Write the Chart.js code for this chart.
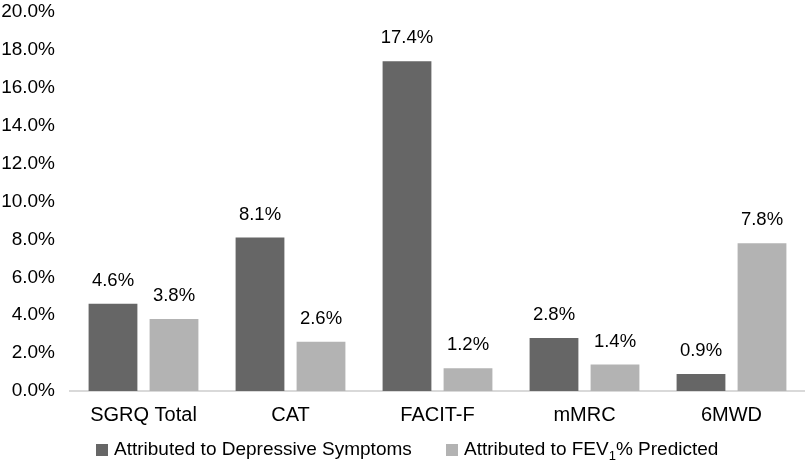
<!DOCTYPE html>
<html>
<head>
<meta charset="utf-8">
<script src="https://cdn.jsdelivr.net/npm/chart.js@4"></script>
<style>
  html, body { margin: 0; padding: 0; background: #fff; }
  #wrap { width: 805px; height: 467px; position: relative; }
</style>
</head>
<body>
<div id="wrap"><canvas id="bar-chart"></canvas></div>
<script>
// values (percent)
const categories = ["SGRQ Total", "CAT", "FACIT-F", "mMRC", "6MWD"];
const depressive = [4.6, 8.1, 17.4, 2.8, 0.9];
const fev1 = [3.8, 2.6, 1.2, 1.4, 7.8];
const yTicks = [0, 2, 4, 6, 8, 10, 12, 14, 16, 18, 20];

const FONT = "'Liberation Sans', Arial, Helvetica, sans-serif";
const DARK = "#666666", LIGHT = "#b3b3b3";

/* draws the % value above every bar */
const valueLabels = {
  id: 'valueLabels',
  afterDatasetsDraw(chart) {
    const ctx = chart.ctx;
    ctx.save();
    ctx.font = "18.5px " + FONT;
    ctx.fillStyle = "#000";
    ctx.textAlign = "center";
    ctx.textBaseline = "middle";
    chart.data.datasets.forEach((ds, i) => {
      chart.getDatasetMeta(i).data.forEach((bar, j) => {
        ctx.fillText(ds.data[j].toFixed(1) + "%", bar.x, bar.y - 23);
      });
    });
    ctx.restore();
  }
};

/* legend at the bottom, with FEV1 subscript */
const bottomLegend = {
  id: 'bottomLegend',
  afterDraw(chart) {
    const ctx = chart.ctx;
    const y = 450;
    ctx.save();
    ctx.textBaseline = "middle";
    ctx.textAlign = "left";
    ctx.font = "19px " + FONT;
    ctx.fillStyle = DARK;
    ctx.fillRect(96, y - 6, 12, 12);
    ctx.fillStyle = "#000";
    ctx.fillText("Attributed to Depressive Symptoms", 114, y);

    ctx.fillStyle = LIGHT;
    ctx.fillRect(446, y - 6, 12, 12);
    ctx.fillStyle = "#000";
    let x = 464;
    ctx.fillText("Attributed to FEV", x, y);
    x += ctx.measureText("Attributed to FEV").width;
    ctx.font = "13px " + FONT;
    ctx.fillText("1", x, y + 6);
    x += ctx.measureText("1").width;
    ctx.font = "19px " + FONT;
    ctx.fillText("% Predicted", x, y);
    ctx.restore();
  }
};

new Chart(document.getElementById("bar-chart"), {
  type: 'bar',
  data: {
    labels: categories,
    datasets: [
      {
        label: "Attributed to Depressive Symptoms",
        backgroundColor: DARK,
        data: depressive,
        categoryPercentage: 0.83,
        barPercentage: 0.8
      },
      {
        label: "Attributed to FEV1% Predicted",
        backgroundColor: LIGHT,
        data: fev1,
        categoryPercentage: 0.83,
        barPercentage: 0.8
      }
    ]
  },
  options: {
    responsive: true,
    maintainAspectRatio: false,
    animation: false,
    layout: { padding: { top: 12, left: 0, right: 0, bottom: 38 } },
    plugins: {
      legend: { display: false },
      tooltip: { enabled: false }
    },
    scales: {
      x: {
        grid: { display: false, drawTicks: false, tickLength: 0 },
        border: { display: true, color: "#d9d9d9", width: 2 },
        ticks: { color: "#000", font: { family: FONT, size: 20 }, padding: 12 },
        afterFit(a) { a.height = 38; a.paddingLeft = 0; a.paddingRight = 0; }
      },
      y: {
        min: 0,
        max: 20,
        afterBuildTicks(axis) { axis.ticks = yTicks.map(v => ({ value: v })); },
        grid: { display: false, drawTicks: false, tickLength: 0 },
        border: { display: false },
        ticks: {
          color: "#000",
          font: { family: FONT, size: 19 },
          padding: 15,
          callback: v => v.toFixed(1) + "%"
        },
        afterFit(a) { a.width = 70; a.paddingTop = 0; a.paddingBottom = 0; }
      }
    }
  },
  plugins: [valueLabels, bottomLegend]
});
</script>
</body>
</html>
